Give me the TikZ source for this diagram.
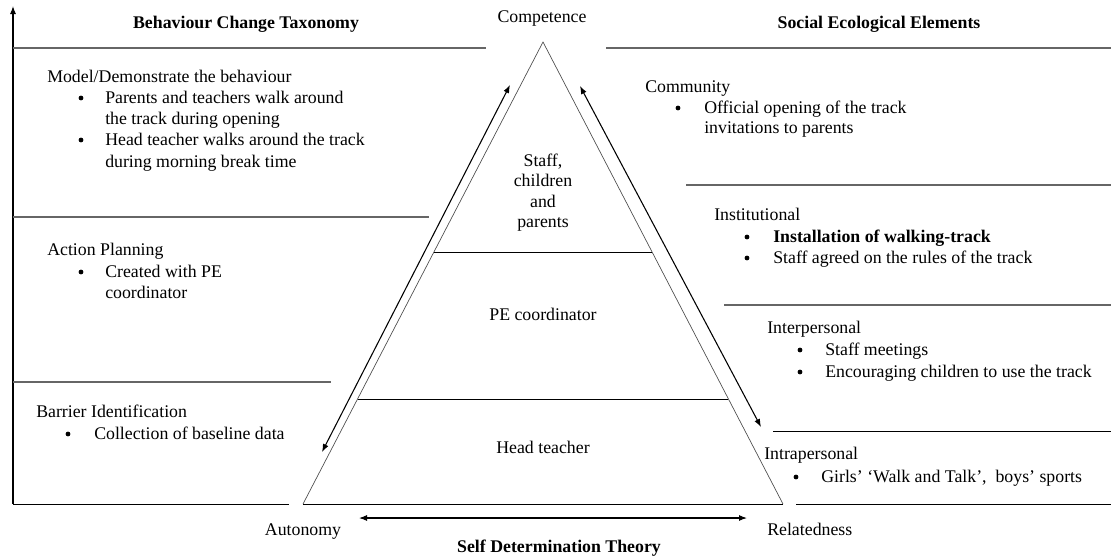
\documentclass[tikz,border=0pt]{standalone}
\usepackage{fontspec}
\setmainfont{Liberation Serif}
\usetikzlibrary{arrows.meta,calc}

\tikzset{
    txt/.style={anchor=base west, inner sep=0pt, font=\fontsize{13.35}{16}\selectfont},
    ctxt/.style={anchor=base, inner sep=0pt, font=\fontsize{13.35}{16}\selectfont},
    btxt/.style={anchor=base, inner sep=0pt, font=\fontsize{13.35}{16}\selectfont\bfseries},
    dot/.style={circle, fill=black, inner sep=0pt, minimum size=3.6pt},
    rule/.style={draw=black!60, line width=0.9pt},
    edge/.style={draw=black!70, line width=0.5pt},
    level/.style={draw=black, line width=0.5pt},
    link/.style={{Latex[length=6pt,width=4.5pt]}-{Latex[length=6pt,width=4.5pt]}, line width=0.8pt},
}

\begin{document}
\begin{tikzpicture}[x=0.75pt,y=-0.75pt]
    \useasboundingbox (0,0) rectangle (1111,558);

    % axis on the left
    \coordinate (axisb) at (13,504);
    \coordinate (axist) at (13,6);
    \draw[-{Latex[length=6pt,width=4.5pt]}, line width=0.8pt] (axisb) -- (axist);

    % rules of the left column
    \draw[rule] (13,48) -- (486,48);
    \draw[rule] (13,217) -- (429,217);
    \draw[rule] (13,382) -- (331,382);
    \draw[line width=0.7pt] (axisb) -- (289,504);

    % rules of the right column
    \draw[rule] (606,48) -- (1111,48);
    \draw[rule] (686,185) -- (1111,185);
    \draw[rule] (724,305) -- (1111,305);
    \draw[line width=0.7pt] (773,431) -- (1111,431);
    \draw[line width=0.7pt] (796,504) -- (1111,504);

    % the pyramid
    \coordinate (apex) at (543,42);
    \coordinate (bl) at (303,504);
    \coordinate (br) at (783,504);
    \draw[edge] (bl) -- (apex) -- (br);
    \draw[level] (bl) -- (br);
    \coordinate (l1) at ($(apex)!{210/462}!(bl)$);
    \coordinate (r1) at ($(apex)!{210/462}!(br)$);
    \coordinate (l2) at ($(apex)!{357/462}!(bl)$);
    \coordinate (r2) at ($(apex)!{357/462}!(br)$);
    \draw[level] (l1) -- (r1);
    \draw[level] (l2) -- (r2);

    \node[ctxt] (comp) at (542,22) {Competence};
    \node[ctxt] (top1) at (543,166) {Staff,};
    \node[ctxt] (top2) at (543,186.5) {children};
    \node[ctxt] (top3) at (543,207) {and};
    \node[ctxt] (top4) at (543,227.5) {parents};
    \node[ctxt] (mid) at (543,320) {PE coordinator};
    \node[ctxt] (low) at (543,453) {Head teacher};
    \node[ctxt] (auto) at (303,535) {Autonomy};
    \node[txt] (rel) at (767,535) {Relatedness};
    \node[btxt] (sdt) at (559,552) {Self Determination Theory};

    % arrows along the pyramid
    \coordinate (la) at (322,452);
    \coordinate (lb) at (510,85);
    \coordinate (ra) at (580,86);
    \coordinate (rb) at (761,427);
    \coordinate (ba) at (359,518);
    \coordinate (bb) at (747,518);
    \draw[link] (la) -- (lb);
    \draw[link] (ra) -- (rb);
    \draw[link] (ba) -- (bb);

    % behaviour change taxonomy
    \node[btxt] (bct) at (246,28) {Behaviour Change Taxonomy};
    \node[txt] (model) at (47,82) {Model/Demonstrate the behaviour};
    \node[dot] (mb1) at (81,98) {};
    \node[txt] (m1) at (105,103) {Parents and teachers walk around};
    \node[txt] (m2) at (105,124) {the track during opening};
    \node[dot] (mb2) at (81,140) {};
    \node[txt] (m3) at (105,145) {Head teacher walks around the track};
    \node[txt] (m4) at (105,167) {during morning break time};

    \node[txt] (plan) at (47,255) {Action Planning};
    \node[dot] (pb1) at (81,272) {};
    \node[txt] (p1) at (105,277) {Created with PE};
    \node[txt] (p2) at (105,298) {coordinator};

    \node[txt] (barr) at (36,417) {Barrier Identification};
    \node[dot] (bb1) at (68,434) {};
    \node[txt] (b1) at (94,439) {Collection of baseline data};

    % social ecological elements
    \node[btxt] (see) at (879,28) {Social Ecological Elements};
    \node[txt] (comm) at (645,92) {Community};
    \node[dot] (cb1) at (678,108) {};
    \node[txt] (c1) at (704,113) {Official opening of the track};
    \node[txt] (c2) at (704,133) {invitations to parents};

    \node[txt] (inst) at (714,220) {Institutional};
    \node[dot] (ib1) at (747,237) {};
    \node[txt, font=\fontsize{13.35}{16}\selectfont\bfseries] (i1) at (773,242) {Installation of walking-track};
    \node[dot] (ib2) at (747,258) {};
    \node[txt] (i2) at (773,263) {Staff agreed on the rules of the track};

    \node[txt] (inter) at (767,333) {Interpersonal};
    \node[dot] (eb1) at (800,350) {};
    \node[txt] (e1) at (825,355) {Staff meetings};
    \node[dot] (eb2) at (800,372) {};
    \node[txt] (e2) at (825,377) {Encouraging children to use the track};

    \node[txt] (intra) at (764,459) {Intrapersonal};
    \node[dot] (ab1) at (796,477) {};
    \node[txt] (a1) at (821,482) {Girls’ ‘Walk and Talk’,\ \ boys’ sports};
\end{tikzpicture}
\end{document}
